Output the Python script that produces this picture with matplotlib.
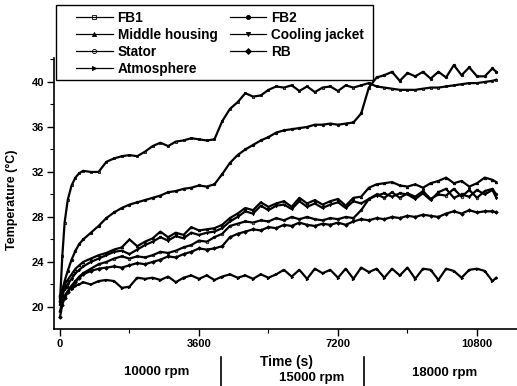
import matplotlib
matplotlib.use("Agg")
import matplotlib.pyplot as plt
from matplotlib.lines import Line2D
from matplotlib.patches import Rectangle
from matplotlib.ticker import FixedLocator

plt.rcParams['font.family'] = ['Liberation Sans', 'DejaVu Sans']
plt.rcParams['font.weight'] = 'bold'

time_s = [0, 60, 120, 200, 300, 400, 500, 600, 800, 1000, 1200, 1400, 1600, 1800,
          2000, 2200, 2400, 2600, 2800, 3000, 3200, 3400, 3600, 3800, 4000, 4200,
          4400, 4600, 4800, 5000, 5200, 5400, 5600, 5800, 6000, 6200, 6400, 6600,
          6800, 7000, 7200, 7400, 7600, 7800, 8000, 8200, 8400, 8600, 8800, 9000,
          9200, 9400, 9600, 9800, 10000, 10200, 10400, 10600, 10800, 11000, 11200, 11300]

fb1 = [20.5, 24.5, 27.5, 29.5, 30.8, 31.5, 31.9, 32.1, 32.0, 32.0, 32.9, 33.2, 33.4, 33.5,
       33.4, 33.8, 34.3, 34.6, 34.3, 34.7, 34.8, 35.0, 34.9, 34.8, 34.9, 36.5,
       37.6, 38.2, 39.0, 38.7, 38.8, 39.3, 39.6, 39.5, 39.7, 39.2, 39.6, 39.1,
       39.5, 39.6, 39.2, 39.7, 39.5, 39.7, 39.9, 39.6, 39.5, 39.4, 39.3, 39.3,
       39.3, 39.4, 39.5, 39.5, 39.6, 39.7, 39.8, 39.9, 39.9, 40.0, 40.1, 40.2]

fb2 = [20.5, 21.5, 22.3, 23.2, 24.2, 25.0, 25.6, 26.0, 26.6, 27.2, 27.9, 28.4, 28.8, 29.1,
       29.3, 29.5, 29.7, 29.9, 30.2, 30.3, 30.5, 30.6, 30.8, 30.7, 30.9, 31.8,
       32.8, 33.5, 34.0, 34.4, 34.8, 35.1, 35.5, 35.7, 35.8, 35.9, 36.0, 36.2,
       36.2, 36.3, 36.2, 36.3, 36.4, 37.2, 39.5, 40.4, 40.6, 40.9, 40.1, 40.8,
       40.5, 40.9, 40.3, 40.9, 40.4, 41.5, 40.6, 41.3, 40.5, 40.5, 41.2, 40.9]

middle_housing = [20.8, 21.5, 22.0, 22.4, 22.9, 23.4, 23.7, 24.0, 24.3, 24.6, 24.8, 25.1, 25.3, 26.0,
                  25.4, 25.8, 26.1, 26.7, 26.2, 26.6, 26.4, 27.1, 26.8, 26.9, 27.0, 27.3,
                  27.9, 28.3, 28.8, 28.6, 29.3, 28.9, 29.2, 29.4, 28.9, 29.7, 29.2, 29.5,
                  29.1, 29.4, 29.6, 29.0, 29.7, 29.8, 30.6, 30.9, 31.0, 31.1, 30.8, 30.7,
                  30.9, 30.6, 31.0, 31.2, 31.5, 31.0, 31.2, 30.7, 31.0, 31.5, 31.3, 31.1]

cooling_jacket = [20.2, 21.0, 21.6, 22.0, 22.5, 23.0, 23.3, 23.6, 24.0, 24.3, 24.6, 24.9, 25.0, 24.7,
                  25.1, 25.5, 25.8, 26.2, 25.9, 26.3, 26.1, 26.6, 26.4, 26.6, 26.7, 27.0,
                  27.6, 28.0, 28.5, 28.3, 29.0, 28.6, 29.0, 29.1, 28.7, 29.4, 28.9, 29.2,
                  28.8, 29.1, 29.3, 28.8, 29.4, 29.2, 29.6, 29.9, 30.1, 29.8, 30.1, 30.0,
                  29.6, 30.1, 29.5, 30.2, 30.5, 29.7, 30.0, 29.8, 30.4, 30.0, 30.4, 29.7]

stator = [19.6, 20.5, 21.0, 21.4, 21.9, 22.3, 22.7, 23.0, 23.4, 23.8, 24.0, 24.3, 24.5, 24.3,
          24.5, 24.4, 24.6, 24.9, 24.8, 25.0, 25.3, 25.5, 25.9, 25.8, 26.2, 26.5,
          27.2, 27.4, 27.6, 27.5, 27.7, 27.6, 27.9, 27.7, 28.0, 27.8, 28.0, 27.8,
          27.7, 27.9, 27.8, 28.0, 27.9, 28.6, 29.6, 30.0, 29.7, 30.2, 29.7, 30.1,
          29.8, 30.3, 29.6, 30.0, 29.9, 30.5, 29.8, 30.4, 29.7, 30.3, 30.5, 30.0]

rb = [19.1, 20.2, 20.8, 21.3, 21.8, 22.2, 22.6, 22.9, 23.2, 23.4, 23.5, 23.6, 23.5, 23.7,
      23.9, 23.8, 24.0, 24.2, 24.5, 24.4, 24.7, 24.9, 25.2, 25.1, 25.2, 25.4,
      26.2, 26.5, 26.7, 26.9, 26.8, 27.1, 27.0, 27.3, 27.2, 27.5, 27.3, 27.2,
      27.4, 27.3, 27.5, 27.3, 27.6, 27.8, 27.7, 27.9, 27.8, 28.0, 27.9, 28.1,
      28.0, 28.2, 28.1, 28.0, 28.3, 28.5, 28.3, 28.6, 28.4, 28.5, 28.5, 28.4]

atmosphere = [21.0, 21.5, 21.7, 21.8, 21.6, 21.9, 22.0, 22.2, 22.0, 22.3, 22.4, 22.3, 21.7, 21.8,
              22.6, 22.5, 22.6, 22.4, 22.7, 22.2, 22.6, 22.8, 22.5, 22.8, 22.4, 22.7,
              22.9, 22.6, 22.8, 22.5, 22.9, 22.6, 22.9, 23.3, 22.7, 23.3, 22.5, 23.4,
              23.0, 23.3, 22.6, 23.4, 22.5, 23.5, 23.1, 23.4, 22.6, 23.4, 22.8, 23.5,
              22.5, 23.4, 23.3, 22.4, 23.4, 23.2, 22.6, 23.3, 23.4, 23.2, 22.3, 22.6]

series_names = ["FB1", "FB2", "Middle housing", "Cooling jacket", "Stator", "RB", "Atmosphere"]
series_values = [fb1, fb2, middle_housing, cooling_jacket, stator, rb, atmosphere]
markers = ['s', 'o', '^', 'v', 'o', 'D', '>']
fills = ['none', 'full', 'full', 'full', 'none', 'full', 'full']

x_ticks = [0, 3600, 7200, 10800]
x_minor = [1800, 5400, 9000]
y_ticks = [20, 24, 28, 32, 36, 40]
y_minor = [22, 26, 30, 34, 38, 42]
speed_labels = ["10000 rpm", "15000 rpm", "18000 rpm"]

W, H = 517, 386
fig = plt.figure(figsize=(W / 100, H / 100), dpi=100)
ax = fig.add_axes([54 / W, (H - 329) / H, (W - 54) / W, (329 - 4) / H])

handles = []
for name, vals, m, f in zip(series_names, series_values, markers, fills):
    h, = ax.plot(time_s, vals, color='black', lw=1.6, marker=m, ms=1.8,
                 fillstyle=f, markeredgewidth=0.6, label=name)
    handles.append(h)

ax.set_xlim(-155, 11836)
ax.set_ylim(18.04, 46.93)
ax.set_xticks(x_ticks)
ax.set_yticks(y_ticks)
ax.xaxis.set_minor_locator(FixedLocator(x_minor))
ax.yaxis.set_minor_locator(FixedLocator(y_minor))
ax.tick_params(axis='both', which='major', direction='out', length=5, width=1,
               labelsize=8, pad=2)
ax.tick_params(axis='both', which='minor', direction='out', length=3, width=0.8)
for lab in ax.get_xticklabels() + ax.get_yticklabels():
    lab.set_fontweight('bold')

for s in ['top', 'right']:
    ax.spines[s].set_visible(False)
ax.spines['left'].set_bounds(18.04, 42.1)
ax.spines['left'].set_linewidth(1.2)
ax.spines['bottom'].set_linewidth(1.2)

# legend frame (inside the axes, below the legend entries)
frame = Rectangle((56 / W, 1 - 80 / H), (373 - 56) / W, (80 - 5) / H,
                  transform=fig.transFigure, facecolor='white',
                  edgecolor='black', lw=1.0, zorder=4, clip_on=False)
ax.add_patch(frame)

order = [0, 2, 4, 6, 1, 3, 5]
leg = ax.legend([handles[i] for i in order], [series_names[i] for i in order],
                ncol=2, loc='upper left', bbox_to_anchor=(76 / W, 1 - 11 / H),
                bbox_transform=fig.transFigure, borderaxespad=0, borderpad=0,
                frameon=False,
                handlelength=2.7, handletextpad=0.35, columnspacing=0.9,
                labelspacing=0.22,
                prop={'family': 'Liberation Sans', 'weight': 'bold', 'size': 9.8})
leg.set_zorder(6)
for lh in leg.legend_handles:
    lh.set_linewidth(0.9)
    lh.set_markersize(3)

fig.text(12 / W, 1 - 200 / H, "Temperature (°C)", rotation=90, ha='center', va='center',
         fontsize=9, fontweight='bold')
fig.text(287 / W, 1 - 362 / H, "Time (s)", ha='center', va='center',
         fontsize=10, fontweight='bold')
for lbl, (px, py) in zip(speed_labels, [(157, 372), (312, 378), (445, 373)]):
    fig.text(px / W, 1 - py / H, lbl, ha='center', va='center',
             fontsize=9.5, fontweight='bold')
for px in [221, 364]:
    fig.add_artist(Line2D([px / W, px / W], [1 - 357 / H, 0], transform=fig.transFigure,
                          color='black', lw=1.2))

fig.savefig("out.png", dpi=100)
